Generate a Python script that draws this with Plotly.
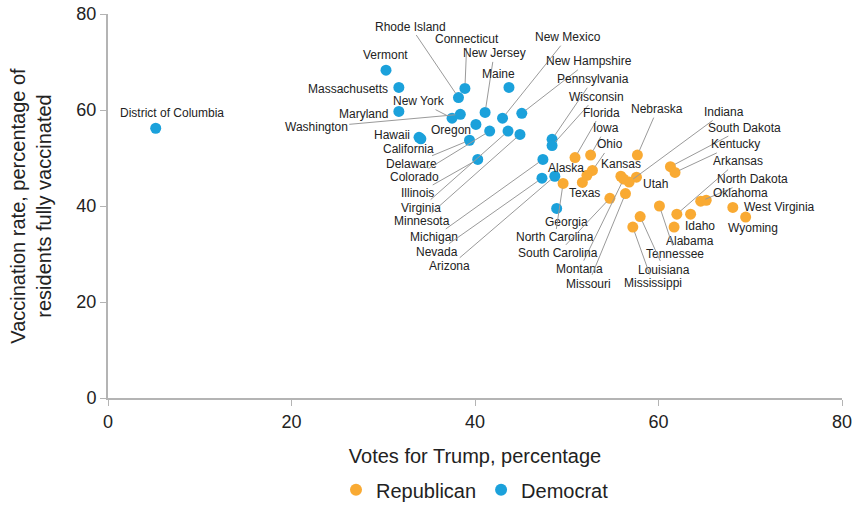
import plotly.graph_objects as go

# Democrat-won states: Trump vote share (%) and share fully vaccinated (%)
dem_states = ['District of Columbia', 'Vermont', 'Massachusetts', 'Maryland', 'Hawaii',
              'California', 'Rhode Island', 'Connecticut', 'New York', 'Washington',
              'New Jersey', 'Maine', 'Oregon', 'New Mexico', 'New Hampshire',
              'Pennsylvania', 'Wisconsin', 'Delaware', 'Colorado', 'Illinois',
              'Virginia', 'Minnesota', 'Michigan', 'Nevada', 'Arizona', 'Georgia']
dem_trump = [5.2, 30.3, 31.7, 31.7, 33.9, 34.1, 38.2, 38.9, 37.5, 38.4,
             41.1, 43.7, 40.1, 43.0, 45.1, 48.4, 48.4, 39.4, 41.6, 40.3,
             43.6, 44.9, 47.4, 47.3, 48.7, 48.9]
dem_vax = [56.2, 68.3, 64.7, 59.7, 54.3, 54.0, 62.6, 64.5, 58.3, 59.1,
           59.5, 64.7, 57.0, 58.3, 59.3, 53.9, 52.6, 53.7, 55.6, 49.7,
           55.6, 54.9, 49.7, 45.8, 46.2, 39.5]

# Republican-won states
rep_states = ['Florida', 'Iowa', 'Ohio', 'Alaska', 'Texas', 'North Carolina',
              'Nebraska', 'Indiana', 'Kansas', 'Montana', 'Utah', 'Missouri',
              'South Carolina', 'South Dakota', 'Kentucky', 'Arkansas', 'Idaho',
              'Alabama', 'Tennessee', 'Louisiana', 'Mississippi', 'North Dakota',
              'Oklahoma', 'West Virginia', 'Wyoming']
rep_trump = [50.9, 52.6, 52.8, 52.2, 51.7, 49.6, 57.7, 56.8, 55.9, 56.2,
             57.6, 56.4, 54.7, 61.3, 61.8, 62.0, 63.5, 61.7, 60.1, 58.0,
             57.2, 64.6, 65.2, 68.1, 69.5]
rep_vax = [50.1, 50.6, 47.4, 46.4, 44.9, 44.7, 50.6, 45.0, 46.2, 45.6,
           46.0, 42.6, 41.6, 48.2, 47.0, 38.3, 38.3, 35.6, 40.0, 37.8,
           35.6, 41.0, 41.2, 39.7, 37.7]

# label offsets in pixels (dx, dy) and whether a leader line is drawn
label_pos = {
    'District of Columbia': (16, -15, False), 'Vermont': (-1, -15, False),
    'Massachusetts': (-51, 2, False), 'Maryland': (-35, 3, False),
    'Hawaii': (-27, -2, False), 'California': (-12, 10, False),
    'Rhode Island': (-48, -71, True), 'Connecticut': (2, -49, True),
    'New York': (-33, -17, True), 'Washington': (-144, 13, True),
    'New Jersey': (9, -59, True), 'Maine': (-10, -13, False),
    'Oregon': (-25, 6, False), 'New Mexico': (65, -81, True),
    'New Hampshire': (67, -52, True), 'Pennsylvania': (41, -60, True),
    'Wisconsin': (44, -49, True), 'Delaware': (-58, 24, True),
    'Colorado': (-75, 46, True), 'Illinois': (-60, 34, True),
    'Virginia': (-87, 77, True), 'Minnesota': (-98, 87, True),
    'Michigan': (-109, 78, True), 'Nevada': (-105, 74, True),
    'Arizona': (-105, 90, True), 'Georgia': (10, 14, False),
    'Florida': (26, -45, True), 'Iowa': (15, -27, True), 'Ohio': (18, -26, True),
    'Nebraska': (20, -46, True), 'Indiana': (95, -70, True),
    'South Dakota': (74, -39, True), 'Kentucky': (60, -28, True),
    'Arkansas': (61, -53, True), 'North Dakota': (52, -22, True),
    'Oklahoma': (34, -7, False), 'West Virginia': (47, 0, False),
    'Wyoming': (7, 11, False), 'Idaho': (9, 12, False), 'Alabama': (16, 14, False),
    'Tennessee': (16, 48, True), 'Louisiana': (24, 53, True),
    'Mississippi': (20, 56, True), 'Missouri': (-37, 90, True),
    'Montana': (-44, 90, True), 'South Carolina': (-52, 55, True),
    'North Carolina': (-8, 54, True), 'Texas': (2, 11, False),
    'Alaska': (-21, -7, False), 'Kansas': (0, -12, False), 'Utah': (19, 7, False),
}

FONT = 'Liberation Sans, Arial, sans-serif'
ORANGE = '#F9AA33'
BLUE = '#1BA1DB'
AXIS = '#b4b4b4'

fig = go.Figure()
fig.add_trace(go.Scatter(x=rep_trump, y=rep_vax, text=rep_states, mode='markers',
                         name='Republican', marker=dict(size=11, color=ORANGE),
                         hoverinfo='text+x+y'))
fig.add_trace(go.Scatter(x=dem_trump, y=dem_vax, text=dem_states, mode='markers',
                         name='Democrat', marker=dict(size=11, color=BLUE),
                         hoverinfo='text+x+y'))

annotations = []
for names, xs, ys in [(dem_states, dem_trump, dem_vax), (rep_states, rep_trump, rep_vax)]:
    for n, x, y in zip(names, xs, ys):
        dx, dy, line = label_pos[n]
        annotations.append(dict(
            x=x, y=y, xref='x', yref='y', text=n, showarrow=True,
            ax=dx, ay=dy, arrowhead=0, arrowwidth=1, standoff=5,
            arrowcolor='#9a9a9a' if line else 'rgba(0,0,0,0)',
            font=dict(size=12, color='#222222', family=FONT)))

fig.update_layout(
    width=854, height=505,
    margin=dict(l=108, r=12, t=14, b=107),
    plot_bgcolor='white', paper_bgcolor='white',
    font=dict(family=FONT, color='#222222'),
    annotations=annotations,
    showlegend=True,
    legend=dict(orientation='h', x=0.5, xanchor='center', xref='paper',
                y=0.03, yanchor='middle', yref='container',
                font=dict(size=20), itemsizing='constant'),
    xaxis=dict(range=[0, 80], dtick=20, showgrid=False, zeroline=False,
               showline=True, linecolor=AXIS, linewidth=2, automargin=False,
               ticks='outside', ticklen=6, tickcolor=AXIS,
               tickfont=dict(size=18), ticklabeloverflow='allow',
               title=dict(text='Votes for Trump, percentage', font=dict(size=20), standoff=18)),
    yaxis=dict(range=[0, 80], dtick=20, showgrid=False, zeroline=False,
               showline=True, linecolor=AXIS, linewidth=2, automargin=False,
               ticks='outside', ticklen=6, tickcolor=AXIS,
               tickfont=dict(size=18), ticklabeloverflow='allow',
               title=dict(text='Vaccination rate, percentage of<br>residents fully vaccinated',
                          font=dict(size=20), standoff=19)),
)

# drop the browser's default 8px body margin so the figure fills the window
fig.write_html('out.html', config={'displayModeBar': False},
               post_script="document.body.style.margin='0';")
